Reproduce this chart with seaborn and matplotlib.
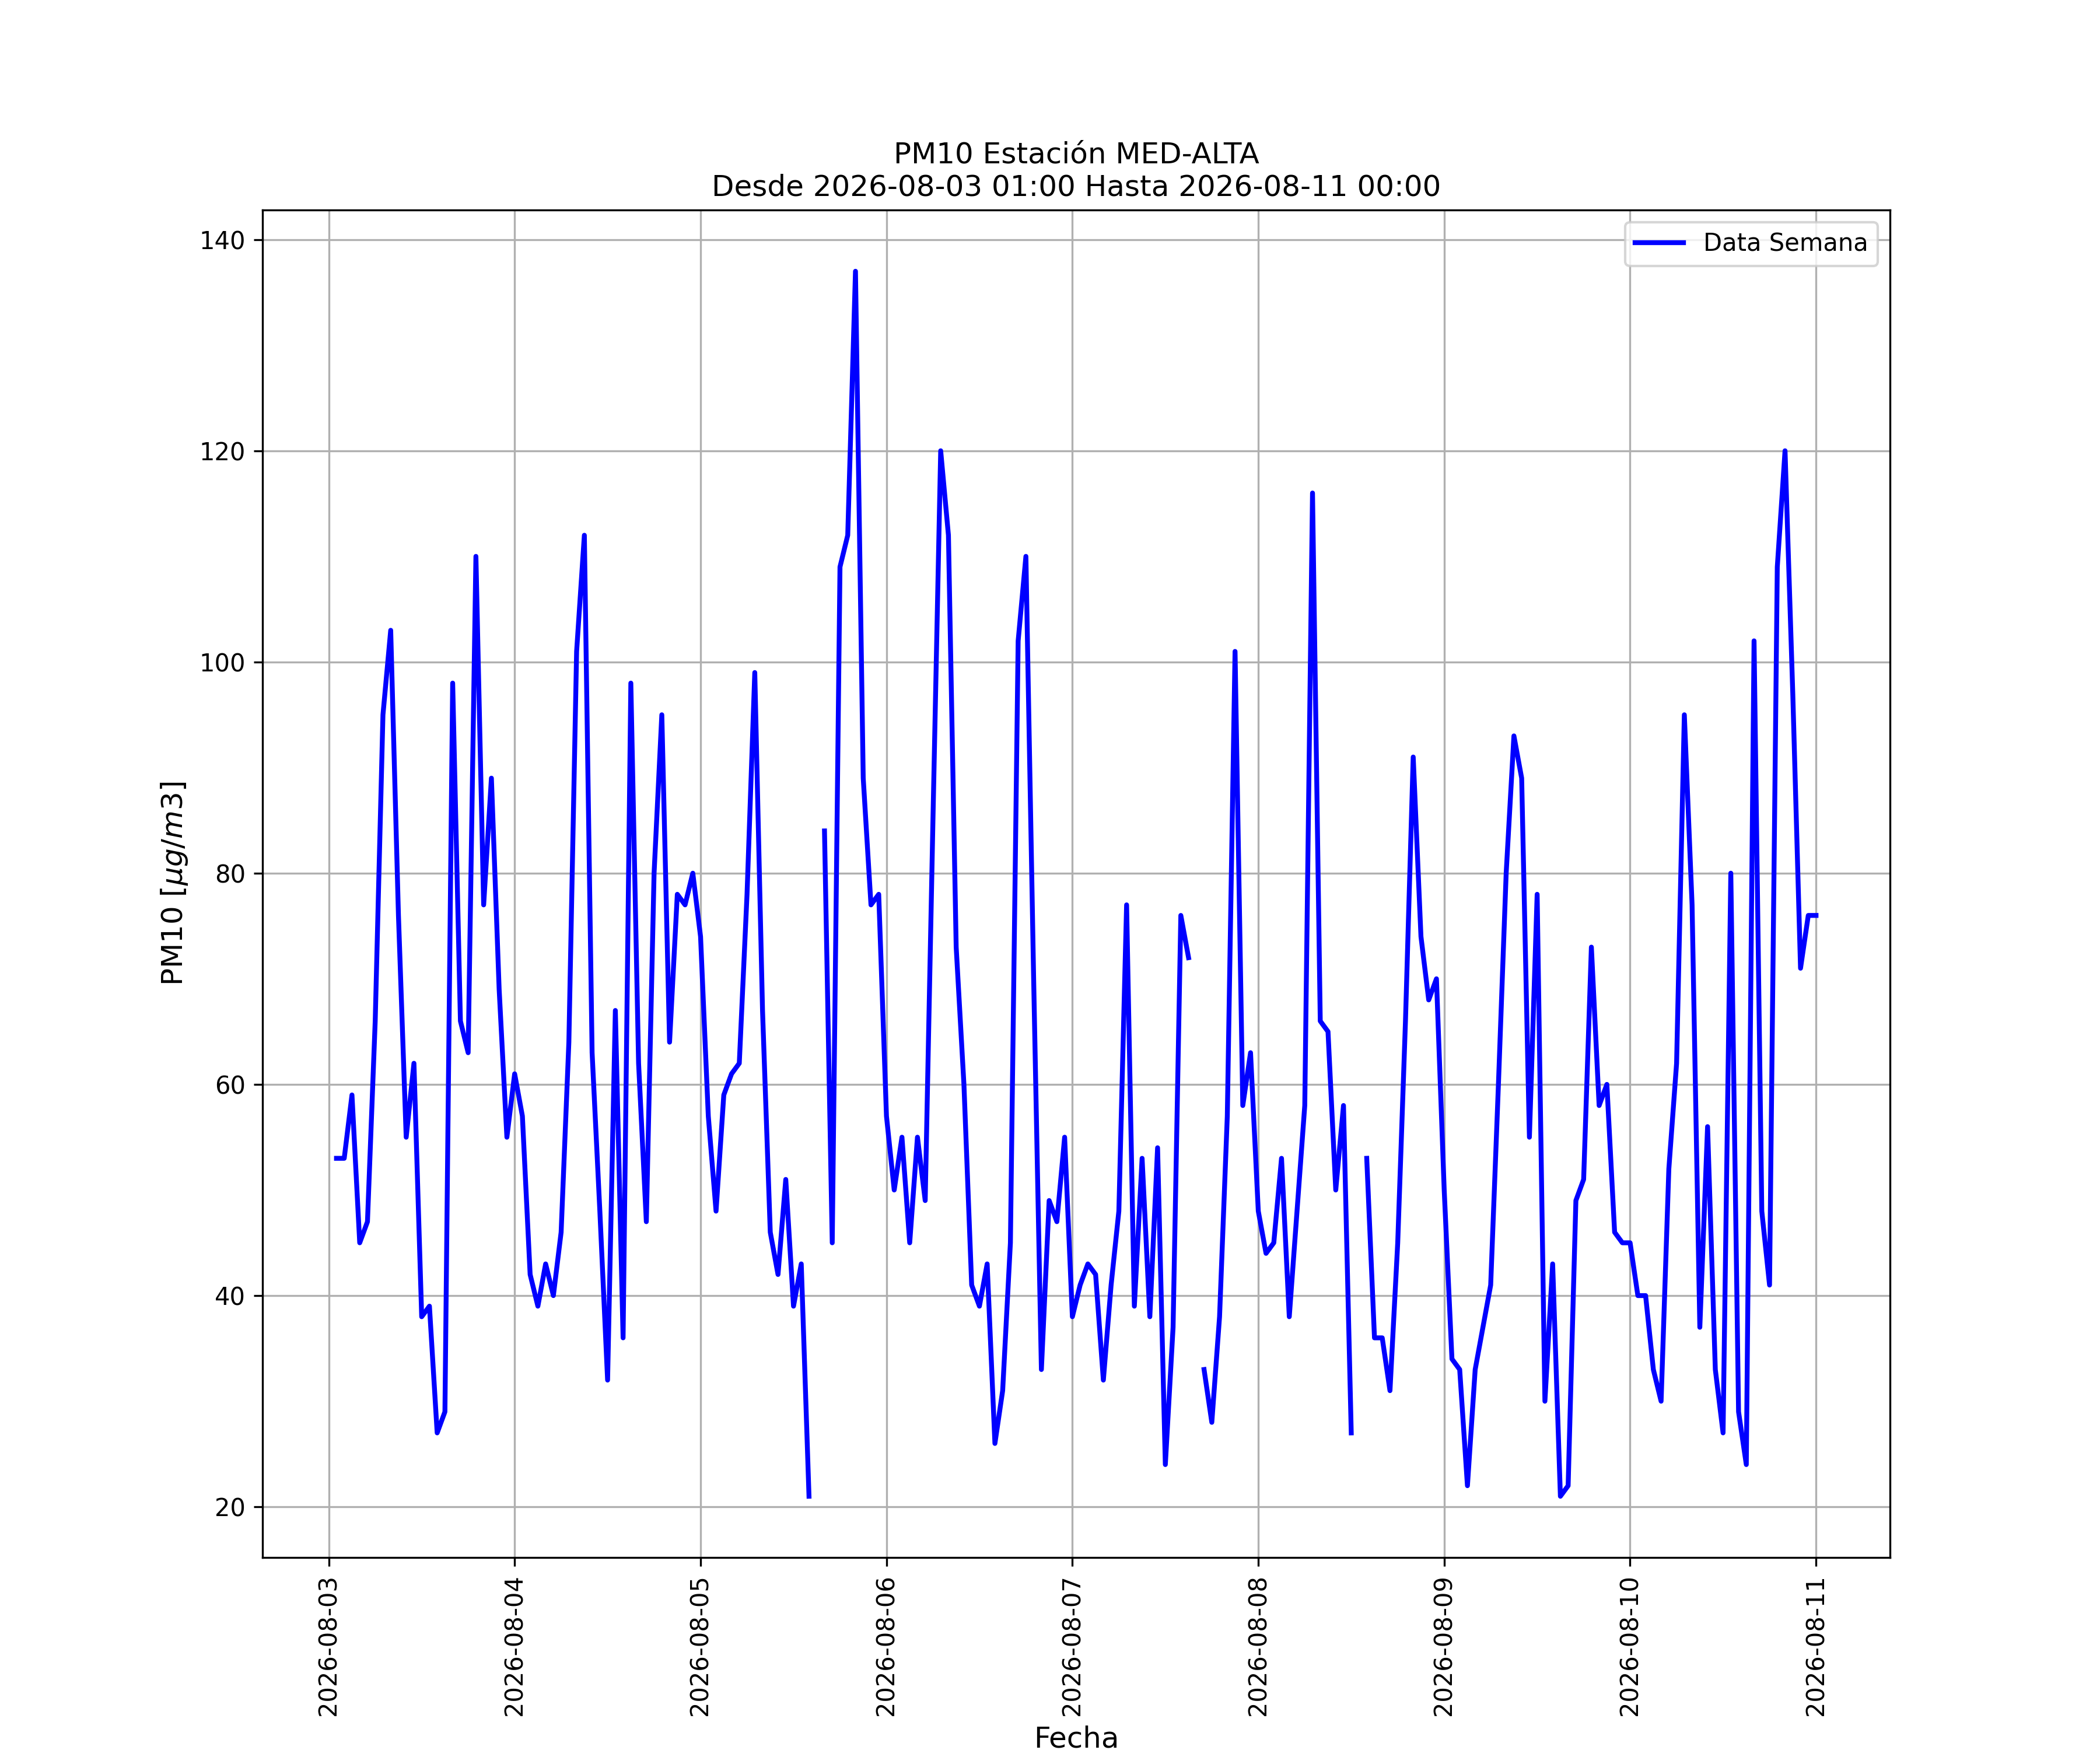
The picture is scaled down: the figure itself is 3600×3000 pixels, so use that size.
import numpy as np
import pandas as pd
import matplotlib
matplotlib.use("Agg")
import matplotlib.pyplot as plt
import matplotlib.dates as mdates
import seaborn as sns

estacion = "MED-ALTA"
desde = "2026-08-03 01:00"
hasta = "2026-08-11 00:00"

nan = np.nan
# PM10 horario [ug/m3], una lista por dia: 01:00 ... 00:00 del dia siguiente
dia_03 = [53, 53, 59, 45, 47, 66, 95, 103, 76, 55, 62, 38,
          39, 27, 29, 98, 66, 63, 110, 77, 89, 69, 55, 61]
dia_04 = [57, 42, 39, 43, 40, 46, 64, 101, 112, 63, 48, 32,
          67, 36, 98, 62, 47, 80, 95, 64, 78, 77, 80, 74]
dia_05 = [57, 48, 59, 61, 62, 78, 99, 67, 46, 42, 51, 39,
          43, 21, nan, 84, 45, 109, 112, 137, 89, 77, 78, 57]
dia_06 = [50, 55, 45, 55, 49, 85, 120, 112, 73, 60, 41, 39,
          43, 26, 31, 45, 102, 110, 70, 33, 49, 47, 55, 38]
dia_07 = [41, 43, 42, 32, 41, 48, 77, 39, 53, 38, 54, 24,
          37, 76, 72, nan, 33, 28, 38, 57, 101, 58, 63, 48]
dia_08 = [44, 45, 53, 38, 48, 58, 116, 66, 65, 50, 58, 27,
          nan, 53, 36, 36, 31, 45, 66, 91, 74, 68, 70, 50]
dia_09 = [34, 33, 22, 33, 37, 41, 60, 80, 93, 89, 55, 78,
          30, 43, 21, 22, 49, 51, 73, 58, 60, 46, 45, 45]
dia_10 = [40, 40, 33, 30, 52, 62, 95, 77, 37, 56, 33, 27,
          80, 29, 24, 102, 48, 41, 109, 120, 97, 71, 76, 76]

pm10 = dia_03 + dia_04 + dia_05 + dia_06 + dia_07 + dia_08 + dia_09 + dia_10
fechas = pd.date_range(desde, hasta, freq="h")

df = pd.DataFrame({"fecha": fechas, "pm10": pm10})
# seaborn quita los NaN y uniria los huecos, asi que se parte en tramos
df["tramo"] = df["pm10"].isna().cumsum()
df = df.dropna()

fig, ax = plt.subplots(figsize=(12, 10), dpi=300)
sns.lineplot(data=df, x="fecha", y="pm10", units="tramo", estimator=None,
             color="blue", linewidth=2, ax=ax)

ax.legend([ax.lines[0]], ["Data Semana"], loc="upper right")
ax.set_title("PM10 Estación " + estacion + "\nDesde " + desde + " Hasta " + hasta)
ax.set_xlabel("Fecha", fontsize=12)
ax.set_ylabel(r"PM10 [$\mu g/m3$]", fontsize=12)

ax.xaxis.set_major_locator(mdates.DayLocator())
ax.xaxis.set_major_formatter(mdates.DateFormatter("%Y-%m-%d"))
plt.setp(ax.get_xticklabels(), rotation=90)
ax.grid(True)

fig.savefig("out.png", dpi=300)
